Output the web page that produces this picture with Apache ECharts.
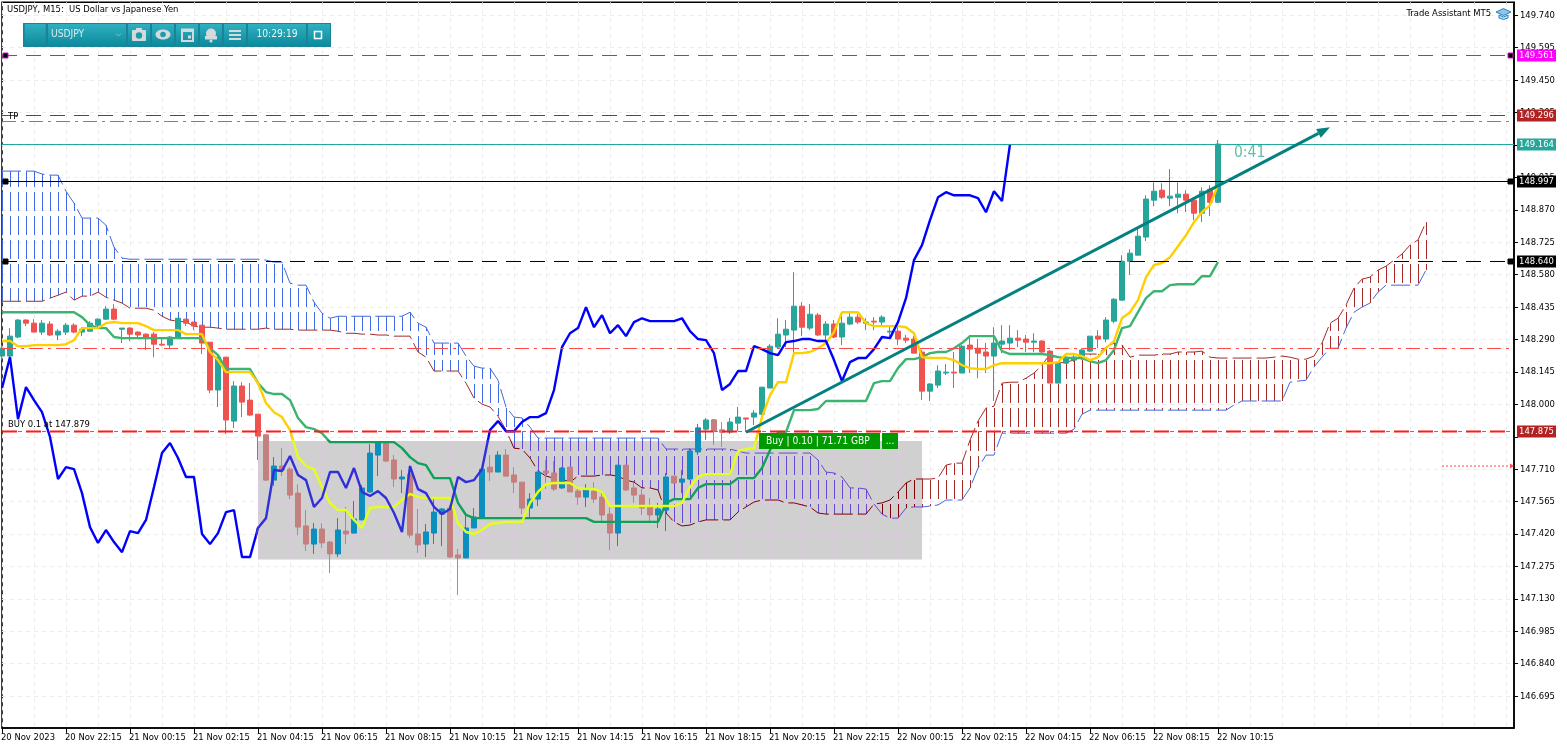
<!DOCTYPE html>
<html>
<head>
<meta charset="utf-8">
<title>USDJPY M15</title>
<script src="https://cdn.jsdelivr.net/npm/echarts@6/dist/echarts.min.js"></script>
<style>html,body{margin:0;padding:0;background:#fff}#c{width:1567px;height:749px}</style>
</head>
<body>
<div id="c"></div>
<script>
// ---------- DATA ----------
const barCount = 190;
const timeLabels = ["20 Nov 2023","20 Nov 22:15","21 Nov 00:15","21 Nov 02:15","21 Nov 04:15","21 Nov 06:15","21 Nov 08:15","21 Nov 10:15","21 Nov 12:15","21 Nov 14:15","21 Nov 16:15","21 Nov 18:15","21 Nov 20:15","21 Nov 22:15","22 Nov 00:15","22 Nov 02:15","22 Nov 04:15","22 Nov 06:15","22 Nov 08:15","22 Nov 10:15"];
const priceTicks = [146.695,146.840,146.985,147.130,147.275,147.420,147.565,147.710,147.855,148.000,148.145,148.290,148.435,148.580,148.725,148.870,149.015,149.160,149.305,149.450,149.595,149.740];
const priceLabels = [146.695,146.840,146.985,147.130,147.275,147.420,147.565,147.710,148.000,148.145,148.290,148.435,148.580,148.725,148.870,149.015,149.160,149.305,149.450,149.595,149.740];
// open, close, low, high
const candles = [
[148.216,148.251,148.198,148.265],[148.216,148.305,148.211,148.341],[148.301,148.377,148.296,148.381],[148.377,148.363,148.350,148.381],
[148.363,148.323,148.323,148.381],[148.323,148.363,148.310,148.377],[148.359,148.310,148.305,148.372],[148.310,148.327,148.287,148.336],
[148.323,148.354,148.310,148.363],[148.354,148.323,148.318,148.363],[148.323,148.336,148.305,148.345],[148.327,148.363,148.327,148.372],
[148.354,148.381,148.345,148.385],[148.381,148.426,148.377,148.439],[148.426,148.381,148.377,148.448],[148.336,148.341,148.274,148.341],
[148.341,148.314,148.283,148.345],[148.323,148.310,148.292,148.327],[148.314,148.296,148.243,148.318],[148.314,148.269,148.211,148.323],
[148.269,148.265,148.260,148.296],[148.265,148.301,148.247,148.305],[148.296,148.385,148.296,148.385],[148.381,148.363,148.350,148.381],
[148.368,148.350,148.332,148.368],[148.354,148.274,148.225,148.354],[148.278,148.064,148.050,148.278],[148.064,148.211,147.988,148.211],
[148.211,147.930,147.867,148.211],[147.925,148.082,147.894,148.104],[148.082,148.010,147.943,148.099],[148.019,147.952,147.947,148.095],
[147.956,147.858,147.751,147.956],[147.863,147.661,147.657,147.863],[147.661,147.724,147.635,147.764],[147.724,147.706,147.679,147.804],
[147.710,147.594,147.576,147.719],[147.603,147.451,147.415,147.643],[147.456,147.375,147.344,147.527],[147.375,147.442,147.331,147.469],
[147.442,147.380,147.357,147.469],[147.384,147.331,147.246,147.389],[147.331,147.438,147.317,147.491],[147.433,147.420,147.375,147.541],
[147.424,147.487,147.424,147.568],[147.483,147.626,147.483,147.639],[147.608,147.782,147.603,147.822],[147.773,147.831,147.679,147.831],
[147.831,147.746,147.742,147.831],[147.751,147.666,147.630,147.773],[147.666,147.675,147.603,147.706],[147.688,147.415,147.402,147.728],
[147.420,147.371,147.335,147.532],[147.375,147.429,147.317,147.465],[147.424,147.518,147.375,147.585],[147.509,147.532,147.366,147.536],
[147.536,147.317,147.313,147.550],[147.326,147.313,147.147,147.353],[147.313,147.447,147.313,147.505],[147.447,147.496,147.447,147.536],
[147.496,147.710,147.496,147.710],[147.719,147.697,147.657,147.773],[147.697,147.773,147.697,147.791],[147.773,147.679,147.675,147.800],
[147.684,147.652,147.603,147.719],[147.652,147.536,147.509,147.652],[147.536,147.576,147.496,147.603],[147.576,147.697,147.545,147.697],
[147.702,147.693,147.621,147.751],[147.693,147.621,147.612,147.746],[147.626,147.715,147.621,147.719],[147.719,147.608,147.608,147.719],
[147.612,147.585,147.550,147.630],[147.585,147.617,147.541,147.643],[147.612,147.576,147.559,147.652],[147.585,147.505,147.474,147.608],
[147.509,147.424,147.348,147.541],[147.424,147.728,147.366,147.728],[147.728,147.617,147.612,147.728],[147.626,147.594,147.559,147.648],
[147.594,147.536,147.505,147.621],[147.541,147.505,147.469,147.581],[147.505,147.532,147.447,147.559],[147.527,147.675,147.433,147.693],
[147.679,147.648,147.648,147.679],[147.652,147.666,147.603,147.706],[147.666,147.791,147.661,147.804],[147.787,147.894,147.773,147.912],
[147.889,147.930,147.840,147.939],[147.930,147.880,147.818,147.934],[147.885,147.876,147.809,147.921],[147.876,147.921,147.867,147.939],
[147.916,147.943,147.880,147.988],[147.939,147.934,147.876,147.939],[147.943,147.961,147.907,147.974],[147.956,148.077,147.952,148.077],
[148.073,148.260,148.073,148.269],[148.256,148.314,148.251,148.385],[148.310,148.336,148.256,148.377],[148.332,148.439,148.229,148.591],
[148.439,148.345,148.305,148.457],[148.341,148.403,148.332,148.448],[148.399,148.310,148.305,148.408],[148.310,148.359,148.287,148.372],
[148.359,148.301,148.296,148.377],[148.301,148.363,148.265,148.412],[148.359,148.390,148.354,148.412],[148.390,148.368,148.359,148.403],
[148.363,148.368,148.332,148.385],[148.372,148.368,148.332,148.390],[148.368,148.390,148.350,148.399],[148.323,148.327,148.296,148.354],
[148.327,148.292,148.265,148.345],[148.296,148.287,148.274,148.310],[148.292,148.229,148.229,148.305],[148.234,148.059,148.019,148.243],
[148.059,148.091,148.015,148.095],[148.086,148.149,148.073,148.175],[148.140,148.144,148.131,148.180],[148.144,148.140,148.073,148.234],
[148.140,148.260,148.140,148.265],[148.265,148.247,148.140,148.310],[148.251,148.229,148.117,148.292],[148.234,148.216,148.140,148.274],
[148.216,148.274,148.015,148.345],[148.269,148.283,148.229,148.354],[148.274,148.296,148.243,148.354],[148.296,148.287,148.256,148.332],
[148.292,148.278,148.234,148.310],[148.278,148.283,148.234,148.318],[148.283,148.234,148.229,148.287],[148.238,148.095,148.095,148.243],
[148.095,148.184,148.095,148.189],[148.184,148.211,148.184,148.220],[148.198,148.211,148.189,148.220],[148.216,148.243,148.198,148.251],
[148.238,148.305,148.234,148.305],[148.305,148.292,148.251,148.332],[148.292,148.377,148.278,148.390],[148.372,148.470,148.363,148.475],
[148.466,148.640,148.466,148.667],[148.640,148.676,148.578,148.694],[148.667,148.752,148.667,148.792],[148.748,148.918,148.730,148.935],
[148.913,148.953,148.886,148.993],[148.958,148.926,148.918,148.989],[148.922,148.931,148.886,149.052],[148.926,148.940,148.855,148.993],
[148.940,148.913,148.860,148.958],[148.913,148.855,148.824,148.922],[148.855,148.953,148.815,148.971],[148.962,148.904,148.842,148.980],
[148.904,149.164,148.900,149.182]
];
const tenkan = [148.283,148.283,148.260,148.260,148.265,148.265,148.265,148.265,148.269,148.287,148.341,148.341,148.341,148.363,148.368,148.363,148.363,148.363,148.350,148.332,148.332,148.332,148.332,148.314,148.314,148.314,148.234,148.198,148.144,148.144,148.144,148.144,148.095,148.006,147.965,147.943,147.885,147.764,147.724,147.710,147.630,147.559,147.527,147.527,147.483,147.447,147.536,147.541,147.541,147.541,147.572,147.599,147.585,147.581,147.581,147.581,147.581,147.469,147.429,147.420,147.438,147.465,147.469,147.474,147.474,147.474,147.559,147.608,147.643,147.648,147.648,147.648,147.626,147.621,147.621,147.608,147.545,147.545,147.545,147.545,147.545,147.545,147.545,147.545,147.545,147.559,147.630,147.675,147.688,147.688,147.688,147.688,147.791,147.800,147.804,147.943,148.041,148.099,148.099,148.229,148.229,148.234,148.251,148.274,148.323,148.412,148.412,148.412,148.363,148.350,148.350,148.350,148.350,148.345,148.318,148.211,148.207,148.207,148.207,148.198,148.175,148.162,148.158,148.158,148.175,148.184,148.184,148.184,148.184,148.184,148.184,148.184,148.189,148.225,148.225,148.216,148.198,148.211,148.251,148.283,148.385,148.412,148.466,148.569,148.623,148.632,148.658,148.707,148.757,148.815,148.859,148.891,148.980];
const kijun = [148.412,148.412,148.412,148.412,148.412,148.412,148.412,148.412,148.412,148.412,148.390,148.354,148.341,148.341,148.301,148.296,148.296,148.296,148.296,148.296,148.296,148.296,148.296,148.296,148.296,148.296,148.251,148.220,148.158,148.158,148.158,148.158,148.095,148.055,148.046,148.046,148.019,147.939,147.898,147.889,147.871,147.831,147.831,147.831,147.831,147.831,147.831,147.831,147.831,147.831,147.804,147.764,147.737,147.728,147.670,147.670,147.670,147.559,147.505,147.491,147.491,147.491,147.491,147.491,147.491,147.491,147.491,147.491,147.491,147.491,147.491,147.491,147.491,147.491,147.474,147.474,147.474,147.474,147.474,147.474,147.474,147.474,147.474,147.559,147.576,147.576,147.576,147.626,147.643,147.643,147.643,147.643,147.670,147.670,147.670,147.715,147.795,147.876,147.876,147.974,147.974,147.974,147.979,148.015,148.015,148.015,148.015,148.015,148.015,148.095,148.104,148.104,148.162,148.202,148.202,148.211,148.229,148.234,148.234,148.251,148.274,148.305,148.305,148.305,148.305,148.238,148.225,148.225,148.225,148.225,148.225,148.220,148.211,148.207,148.207,148.207,148.193,148.184,148.198,148.243,148.341,148.350,148.412,148.475,148.506,148.506,148.533,148.537,148.537,148.537,148.573,148.573,148.636];
const chikou = [148.073,148.211,147.934,148.077,148.019,147.965,147.854,147.666,147.719,147.710,147.603,147.451,147.380,147.438,147.384,147.339,147.433,147.424,147.483,147.630,147.782,147.827,147.760,147.675,147.675,147.420,147.375,147.424,147.518,147.527,147.317,147.317,147.447,147.491,147.706,147.702,147.769,147.684,147.661,147.541,147.581,147.697,147.697,147.626,147.715,147.608,147.590,147.612,147.581,147.514,147.429,147.724,147.621,147.603,147.541,147.509,147.532,147.675,147.652,147.661,147.710,147.885,147.925,147.880,147.880,147.921,147.943,147.943,147.961,148.064,148.256,148.318,148.341,148.435,148.345,148.399,148.318,148.354,148.305,148.368,148.385,148.372,148.372,148.372,148.372,148.385,148.327,148.292,148.287,148.229,148.064,148.091,148.149,148.149,148.260,148.247,148.229,148.220,148.278,148.283,148.292,148.292,148.283,148.283,148.198,148.104,148.189,148.207,148.207,148.247,148.301,148.296,148.368,148.475,148.645,148.712,148.824,148.926,148.949,148.935,148.935,148.935,148.922,148.859,148.953,148.909,149.164];
const spanBlue = [149.043,149.043,149.043,149.043,149.043,149.030,149.025,149.025,148.953,148.900,148.833,148.833,148.833,148.801,148.703,148.654,148.649,148.649,148.649,148.649,148.649,148.649,148.649,148.649,148.649,148.649,148.649,148.649,148.649,148.649,148.649,148.649,148.649,148.645,148.636,148.636,148.542,148.533,148.533,148.457,148.408,148.385,148.394,148.394,148.394,148.394,148.394,148.394,148.394,148.394,148.394,148.412,148.363,148.345,148.274,148.274,148.274,148.274,148.216,148.171,148.162,148.162,148.108,147.988,147.943,147.939,147.898,147.849,147.849,147.849,147.849,147.849,147.849,147.849,147.849,147.849,147.849,147.849,147.849,147.849,147.849,147.849,147.849,147.800,147.800,147.800,147.800,147.800,147.800,147.800,147.800,147.800,147.791,147.782,147.782,147.782,147.782,147.782,147.782,147.782,147.782,147.782,147.751,147.697,147.693,147.675,147.626,147.626,147.621,147.554,147.509,147.491,147.491,147.536,147.541,147.541,147.545,147.550,147.572,147.572,147.572,147.626,147.715,147.773,147.773,147.871,147.871,147.871,147.871,147.871,147.871,147.871,147.871,147.871,147.889,147.956,147.974,147.974,147.974,147.974,147.974,147.974,147.974,147.974,147.974,147.974,147.974,147.974,147.974,147.974,147.974,147.974,147.974,147.974,147.997,148.015,148.015,148.015,148.015,148.015,148.015,148.099,148.104,148.108,148.167,148.211,148.251,148.251,148.341,148.412,148.435,148.453,148.502,148.533,148.533,148.533,148.533,148.533,148.600];
const spanRed = [148.461,148.461,148.461,148.461,148.461,148.461,148.475,148.488,148.502,148.466,148.484,148.484,148.502,148.479,148.466,148.453,148.430,148.430,148.430,148.421,148.394,148.377,148.372,148.368,148.350,148.345,148.345,148.341,148.336,148.336,148.336,148.336,148.336,148.341,148.336,148.336,148.336,148.332,148.332,148.332,148.332,148.332,148.327,148.318,148.318,148.314,148.314,148.310,148.310,148.305,148.305,148.305,148.234,148.211,148.149,148.149,148.149,148.149,148.095,148.028,148.001,147.988,147.947,147.885,147.804,147.800,147.760,147.702,147.679,147.670,147.666,147.652,147.679,147.679,147.679,147.684,147.684,147.679,147.661,147.652,147.626,147.626,147.617,147.514,147.474,147.456,147.460,147.474,147.483,147.483,147.483,147.483,147.518,147.541,147.563,147.572,147.572,147.572,147.559,147.559,147.550,147.541,147.514,147.509,147.509,147.509,147.509,147.509,147.509,147.554,147.559,147.572,147.608,147.648,147.666,147.666,147.666,147.670,147.728,147.737,147.737,147.840,147.925,147.983,147.992,148.095,148.099,148.099,148.117,148.140,148.175,148.225,148.184,148.189,148.198,148.225,148.225,148.225,148.256,148.274,148.265,148.211,148.220,148.220,148.220,148.225,148.225,148.234,148.234,148.234,148.238,148.211,148.207,148.207,148.207,148.207,148.207,148.207,148.207,148.211,148.216,148.211,148.202,148.202,148.216,148.274,148.363,148.385,148.444,148.520,148.560,148.569,148.600,148.618,148.645,148.672,148.712,148.735,148.815];
const levelPrices = [149.561,149.296,149.268,149.164,148.997,148.640,148.251,147.879,147.879];
const levelTags = ["149.561","149.296",null,"149.164","148.997","148.640",null,null,"147.875"];
const boxBars = [32,115];
const boxPrices = [147.305,147.836];
const trendBars = [93,166];
const trendPrices = [147.875,149.239];
const dotBars = [179.5,188.9];
const dotPrice = 147.724;
const timerBar = 154, timerPrice = 149.123, timerText = "0:41";

// ---------- STYLE ----------
const levelStyle = [
 {c:'#d60fd0',d:[15,9],w:1,tag:'#ff00ff',handle:1},
 {c:'#a52a2a',d:[15,9],w:1,tag:'#b22222'},
 {c:'#ff4a4a',d:[14,5,3,5],w:1},
 {c:'#26a69a',d:null,w:1,tag:'#26a69a'},
 {c:'#000000',d:null,w:1,tag:'#000000',handle:1},
 {c:'#000000',d:[15,9],w:1,tag:'#000000',handle:1},
 {c:'#ff4a4a',d:[14,5,3,5],w:1},
 {c:'#26a69a',d:[4,4],w:1},
 {c:'#ff1a1a',d:[15,9],w:2,tag:'#b22222'}
];
const FONTNAME = 'DejaVu Sans Condensed';
const FONT = '"DejaVu Sans Condensed", "DejaVu Sans", sans-serif';
const TEAL='#26a69a', RED='#ef5350';
const categories = Array.from({length:barCount},(_,i)=> (i%8===0 && timeLabels[i/8]) ? timeLabels[i/8] : '');
const cloudRows = spanRed.map((v,i)=>[i,v,spanBlue[i]]);

function hatchRenderer(blueColor, redColor){
  return function(params, api){
    const x = api.coord([api.value(0), api.value(1)])[0];
    const y1 = api.coord([api.value(0), api.value(1)])[1];
    const y2 = api.coord([api.value(0), api.value(2)])[1];
    const top = Math.min(y1,y2), bot = Math.max(y1,y2);
    const blueOnTop = y2 < y1;
    return {type:'line', shape:{x1:Math.round(x)+0.5,y1:top,x2:Math.round(x)+0.5,y2:bot},
      style:{stroke: blueOnTop?blueColor:redColor, lineWidth:1, lineDash:[19,5], lineDashOffset: top%24}};
  };
}
function lineSeries(name,data,color,axis,z){
  return {name,type:'line',data,xAxisIndex:axis,yAxisIndex:axis,showSymbol:false,symbol:'none',animation:false,silent:true,z,
    lineStyle:{color,width:2.4}};
}
function edgeSeries(name,data,color,axis,z){
  return {name,type:'line',data,xAxisIndex:axis,yAxisIndex:axis,showSymbol:false,symbol:'none',animation:false,silent:true,z,
    lineStyle:{color,width:1,type:[19,5]}};
}
function candleSeries(data,up,down,axis,z){
  return {type:'candlestick',data,xAxisIndex:axis,yAxisIndex:axis,barWidth:5,animation:false,silent:true,z,
    itemStyle:{color:up,color0:down,borderColor:up,borderColor0:down,borderColorDoji:up,borderWidth:1}};
}
function hatchSeries(blue,red,axis,z){
  return {type:'custom',data:cloudRows,xAxisIndex:axis,yAxisIndex:axis,renderItem:hatchRenderer(blue,red),clip:true,animation:false,silent:true,z,
    encode:{x:0,y:[1,2]}};
}

// price levels + right-hand tags
const levelSeries = {
  type:'custom',xAxisIndex:0,yAxisIndex:0,z:20,silent:true,animation:false,clip:false,
  data:levelPrices.map(p=>[0,p]),encode:{x:0,y:1},
  renderItem(params,api){
    const i=params.dataIndex, s=levelStyle[i], tag=levelTags[i];
    const cs=params.coordSys;
    const y=Math.round(api.coord([0,api.value(1)])[1])+0.5;
    const ch=[{type:'line',shape:{x1:cs.x,y1:y,x2:cs.x+cs.width,y2:y},style:{stroke:s.c,lineWidth:s.w,lineDash:s.d||undefined}}];
    if(s.handle){
      const fc = s.c==='#d60fd0'?s.c:'#000';
      ch.push({type:'rect',shape:{x:cs.x+1,y:y-2.5,width:5,height:5},style:{fill:'#000',stroke:fc,lineWidth:1}});
      ch.push({type:'rect',shape:{x:cs.x+cs.width-6,y:y-2.5,width:5,height:5},style:{fill:'#000',stroke:fc,lineWidth:1}});
    }
    if(tag){
      ch.push({type:'rect',shape:{x:cs.x+cs.width+3,y:y-6,width:39,height:12},style:{fill:s.tag}});
      ch.push({type:'text',style:{x:cs.x+cs.width+22.5,y:y,text:tag,fill:'#fff',font:'9.4px '+FONT,align:'center',verticalAlign:'middle'}});
    }
    return {type:'group',children:ch};
  }
};

// grey selection box (with its own tinted grid lines)
const boxSeries = {
  type:'custom',xAxisIndex:1,yAxisIndex:1,z:10,silent:true,animation:false,clip:true,
  data:[[boxBars[0],boxPrices[0],boxBars[1],boxPrices[1]]],encode:{x:[0,2],y:[1,3]},
  renderItem(params,api){
    const a=api.coord([api.value(0),api.value(1)]), b=api.coord([api.value(2),api.value(3)]);
    const ch=[{type:'rect',shape:{x:a[0],y:b[1],width:b[0]-a[0],height:a[1]-b[1]},style:{fill:'#d1d0d1'}}];
    for(let k=boxBars[0];k<=boxBars[1];k++){ if(k%4===0){
      const x=Math.round(api.coord([k,boxPrices[0]])[0])+0.5;
      ch.push({type:'line',shape:{x1:x,y1:b[1],x2:x,y2:a[1]},style:{stroke:'#e6c6e6',lineWidth:1,lineDash:[4,4]}});
    }}
    priceTicks.forEach(p=>{ if(p>boxPrices[0]&&p<boxPrices[1]){
      const y=Math.round(api.coord([boxBars[0],p])[1])+0.5;
      ch.push({type:'line',shape:{x1:a[0],y1:y,x2:b[0],y2:y},style:{stroke:'#e6c6e6',lineWidth:1,lineDash:[4,4]}});
    }});
    return {type:'group',children:ch};
  }
};

// trend arrow, timer, dotted arrow
const annotationSeries = {
  type:'custom',xAxisIndex:0,yAxisIndex:0,z:25,silent:true,animation:false,clip:false,
  data:[[trendBars[0],trendPrices[0]]],encode:{x:0,y:1},
  renderItem(params,api){
    const a=api.coord([trendBars[0],trendPrices[0]]), b=api.coord([trendBars[1],trendPrices[1]]);
    const ang=Math.atan2(b[1]-a[1],b[0]-a[0]), L=13, W=5;
    const bx=b[0]-L*Math.cos(ang), by=b[1]-L*Math.sin(ang);
    const px=-Math.sin(ang)*W, py=Math.cos(ang)*W;
    const t=api.coord([timerBar,timerPrice]);
    const d1=api.coord([dotBars[0],dotPrice]), d2=api.coord([dotBars[1],dotPrice]);
    return {type:'group',children:[
      {type:'line',shape:{x1:a[0],y1:a[1],x2:bx,y2:by},style:{stroke:'#058080',lineWidth:3}},
      {type:'polygon',shape:{points:[[b[0],b[1]],[bx+px,by+py],[bx-px,by-py]]},style:{fill:'#058080'}},
      {type:'text',style:{x:t[0],y:t[1],text:timerText,fill:'#62bfa8',font:'15.5px '+FONT,align:'left',verticalAlign:'middle'}},
      {type:'line',shape:{x1:d1[0],y1:d1[1],x2:d2[0]-3,y2:d2[1]},style:{stroke:'#ff4a4a',lineWidth:1,lineDash:[2,2]}},
      {type:'polygon',shape:{points:[[d2[0],d2[1]],[d2[0]-4,d2[1]-2.5],[d2[0]-4,d2[1]+2.5]]},style:{fill:'#ff4a4a'}}
    ]};
  }
};

// ---------- CHROME ----------
const chrome=[];
function g(o){o.z=100;o.silent=true;chrome.push(o);}
function label(x,y,text,fill,size,align){g({type:'text',x,y,style:{text,fill,font:size+'px '+FONT,align:align||'left',verticalAlign:'middle'}});}
label(7,9.5,'USDJPY, M15:  US Dollar vs Japanese Yen','#000',9.4);
label(1491,14,'Trade Assistant MT5','#000',9.4,'right');
label(8,116.5,'TP','#000',9.4);
label(8,425,'BUY 0.1 at 147.879','#000',9.4);
// graduation cap
g({type:'polygon',shape:{points:[[1496,12],[1503.5,8.5],[1511,12],[1503.5,15.5]]},style:{fill:'#8ec6ea',stroke:'#2a7fc0',lineWidth:1}});
g({type:'polygon',shape:{points:[[1499,15],[1499,18],[1503.5,19.5],[1508,18],[1508,15],[1503.5,17]]},style:{fill:'#bfe0f5',stroke:'#2a7fc0',lineWidth:1}});
// trade button
g({type:'rect',shape:{x:759,y:433,width:121,height:16},style:{fill:'#009900'}});
g({type:'rect',shape:{x:882,y:433,width:16,height:16},style:{fill:'#009900'}});
label(766,441.5,'Buy | 0.10 | 71.71 GBP','#fff',10.2);
label(890,441.5,'...','#fff',10.2,'center');
// toolbar
g({type:'rect',shape:{x:23,y:23,width:308,height:24},style:{fill:'#1a8496'}});
const cells=[[24.7,21],[48,78],[128,22],[152,22],[176,22],[200,22],[224,22],[248,58],[308,22]];
cells.forEach(c=>g({type:'rect',shape:{x:c[0],y:24,width:c[1],height:22},style:{fill:new echarts.graphic.LinearGradient(0,0,0,1,[{offset:0,color:'#2fb0c0'},{offset:1,color:'#0c8a9e'}])}}));
label(51,34.5,'USDJPY','#dbe9ec',10.2);
label(277,34.5,'10:29:19','#eef6f7',10.2,'center');
const ic='#d4dadc';
g({type:'polyline',shape:{points:[[116,33.5],[118.5,36],[121,33.5]]},style:{stroke:'#7fc0cc',fill:null,lineWidth:1}});
g({type:'rect',shape:{x:132,y:30,width:14,height:11,r:1},style:{fill:ic}});
g({type:'rect',shape:{x:136,y:28,width:6,height:3},style:{fill:ic}});
g({type:'circle',shape:{cx:139,cy:35.5,r:3.2},style:{fill:'#1c9bad'}});
g({type:'ellipse',shape:{cx:163,cy:34.5,rx:7.5,ry:5},style:{fill:ic}});
g({type:'circle',shape:{cx:163,cy:34.5,r:2.8},style:{fill:'#1c9bad'}});
g({type:'rect',shape:{x:182,y:29.5,width:11,height:11.5},style:{fill:null,stroke:ic,lineWidth:2}});
g({type:'rect',shape:{x:181,y:29,width:13,height:3},style:{fill:ic}});
g({type:'rect',shape:{x:188,y:35.5,width:3,height:3},style:{fill:ic}});
g({type:'circle',shape:{cx:211,cy:33.5,r:5},style:{fill:ic}});
g({type:'rect',shape:{x:205,y:36,width:12,height:3.5},style:{fill:ic}});
g({type:'circle',shape:{cx:211,cy:41,r:1.6},style:{fill:ic}});
[30,34,38].forEach(y=>g({type:'rect',shape:{x:229,y,width:12,height:2},style:{fill:ic}}));
g({type:'rect',shape:{x:314.5,y:31.5,width:7,height:7},style:{fill:null,stroke:'#fff',lineWidth:1.5}});

// ---------- CHART ----------
const chart=echarts.init(document.getElementById('c'),null,{renderer:'canvas'});
const gridColor='#ececec';
chart.setOption({
  animation:false,
  backgroundColor:'#ffffff',
  grid:[
    {left:2,top:2.3,width:1512,height:725.6,show:true,backgroundColor:'#fff',borderColor:'#000',borderWidth:1.5,outerBoundsMode:'none'},
    {left:258,top:441,width:664,height:118.7,show:false,outerBoundsMode:'none'}
  ],
  xAxis:[
    {type:'category',gridIndex:0,data:categories,boundaryGap:false,position:'bottom',
      axisLine:{show:true,lineStyle:{color:'#000',width:1.5}},
      axisTick:{show:true,length:5,lineStyle:{color:'#000'},interval:(i)=>i%8===0&&i<=152},
      axisLabel:{show:true,interval:(i)=>i%8===0&&i<=152,align:'left',color:'#000',fontFamily:FONTNAME,fontSize:9.4,margin:5,padding:[0,0,0,-1],hideOverlap:false,showMinLabel:true},
      splitLine:{show:true,interval:(i)=>i%4===0,lineStyle:{color:gridColor,type:[4,4]}}},
    {type:'category',gridIndex:1,data:categories,boundaryGap:false,min:boxBars[0],max:boxBars[1],show:false,
      axisLine:{show:false},axisTick:{show:false},axisLabel:{show:false},splitLine:{show:false}}
  ],
  yAxis:[
    {type:'value',gridIndex:0,position:'right',min:146.553,max:149.798,scale:true,
      axisLine:{show:true,onZero:false,lineStyle:{color:'#000',width:1.5}},
      axisTick:{show:true,length:4,customValues:priceTicks,lineStyle:{color:'#000'}},
      axisLabel:{show:true,customValues:priceLabels,color:'#000',fontFamily:FONTNAME,fontSize:9.4,margin:6,formatter:v=>v.toFixed(3),showMinLabel:true,showMaxLabel:true},
      splitLine:{show:true,lineStyle:{color:gridColor,type:[4,4]}}},
    {type:'value',gridIndex:1,min:boxPrices[0],max:boxPrices[1],scale:true,show:false,
      axisLine:{show:false},axisTick:{show:false},axisLabel:{show:false},splitLine:{show:false}}
  ],
  graphic:{elements:chrome},
  series:[
    hatchSeries('#4169e1','#a52a2a',0,2),
    edgeSeries('spanBlue',spanBlue,'#4169e1',0,2),
    edgeSeries('spanRed',spanRed,'#a52a2a',0,2),
    candleSeries(candles,TEAL,RED,0,3),
    lineSeries('kijun',kijun,'#3cb371',0,4),
    lineSeries('tenkan',tenkan,'#ffd000',0,4),
    lineSeries('chikou',chikou,'#0000ff',0,4),
    boxSeries,
    hatchSeries('#6a45d8','#800000',1,11),
    edgeSeries('spanBlueBox',spanBlue,'#6a45d8',1,11),
    edgeSeries('spanRedBox',spanRed,'#800000',1,11),
    candleSeries(candles,'#0a8fbe','#c47f7f',1,12),
    lineSeries('kijunBox',kijun,'#0fa05a',1,13),
    lineSeries('tenkanBox',tenkan,'#e4ff1a',1,13),
    lineSeries('chikouBox',chikou,'#3030d8',1,13),
    levelSeries,
    annotationSeries
  ]
});
</script>
</body>
</html>
